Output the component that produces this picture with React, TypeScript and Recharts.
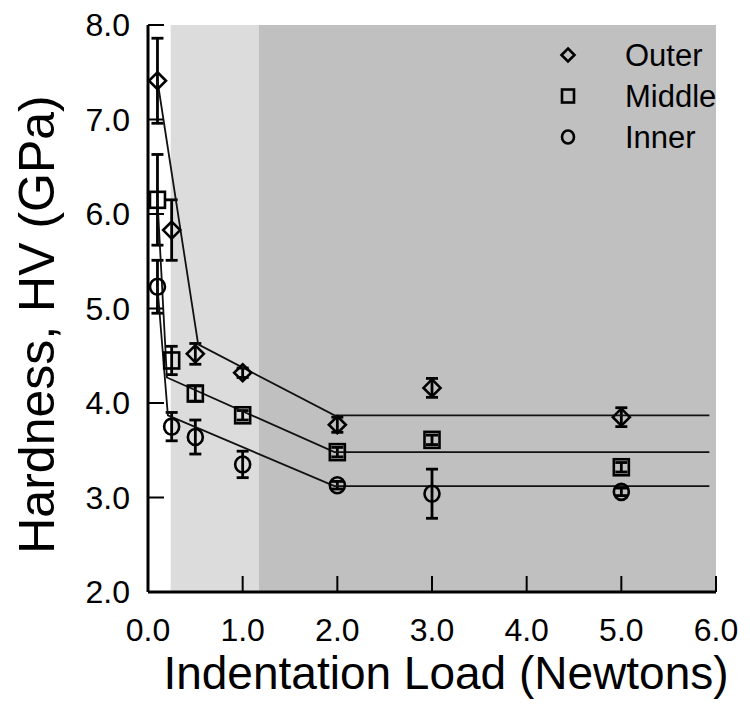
import React from 'react';
import { ComposedChart, Scatter, XAxis, YAxis, ReferenceArea, ErrorBar } from 'recharts';

const loads = [0.1, 0.25, 0.5, 1.0, 2.0, 3.0, 5.0];
const outerHV = [7.41, 5.83, 4.52, 4.32, 3.77, 4.16, 3.85];
const outerErr = [0.45, 0.32, 0.11, 0.05, 0.08, 0.1, 0.1];
const middleHV = [6.15, 4.45, 4.1, 3.87, 3.48, 3.61, 3.32];
const middleErr = [0.48, 0.15, 0.08, 0.05, 0.05, 0.05, 0.05];
const innerHV = [5.23, 3.75, 3.64, 3.35, 3.13, 3.04, 3.06];
const innerErr = [0.28, 0.15, 0.18, 0.14, 0.04, 0.26, 0.04];

const outerFitX = [0.1, 0.53, 1.97, 5.93];
const outerFitY = [7.41, 4.62, 3.87, 3.87];
const middleFitX = [0.1, 0.2, 1.97, 5.93];
const middleFitY = [6.15, 4.27, 3.48, 3.48];
const innerFitX = [0.1, 0.21, 1.97, 5.93];
const innerFitY = [5.23, 3.87, 3.12, 3.12];

const xTicks = [0, 1, 2, 3, 4, 5, 6];
const yTicks = [2, 3, 4, 5, 6, 7, 8];
const regionBounds = [0.24, 1.17, 6];
const seriesNames = ['Outer', 'Middle', 'Inner'];

const toPts = (xs: number[], ys: number[], es?: number[]) =>
  xs.map((x, i) => ({ x, y: ys[i], err: es ? es[i] : 0 }));

const outerData = toPts(loads, outerHV, outerErr);
const middleData = toPts(loads, middleHV, middleErr);
const innerData = toPts(loads, innerHV, innerErr);
const outerFit = toPts(outerFitX, outerFitY);
const middleFit = toPts(middleFitX, middleFitY);
const innerFit = toPts(innerFitX, innerFitY);

const SW = 2.6;
const Diamond = (p: any, s = 8.5) => (
  <polygon
    points={`${p.cx},${p.cy - s} ${p.cx + s},${p.cy} ${p.cx},${p.cy + s} ${p.cx - s},${p.cy}`}
    fill="none" stroke="#000" strokeWidth={SW}
  />
);
const Square = (p: any, s = 8) => (
  <rect x={p.cx - s + 0.5} y={p.cy - s} width={2 * s - 1} height={2 * s} fill="none" stroke="#000" strokeWidth={SW} />
);
const Circle = (p: any, s = 8) => (
  <ellipse cx={p.cx} cy={p.cy} rx={s - 0.5} ry={s} fill="none" stroke="#000" strokeWidth={SW} />
);
const shapes = [Diamond, Square, Circle];

const FONT = '"Liberation Sans", Arial, sans-serif';

const LegendBox = () => (
  <svg width={190} height={130} style={{ position: 'absolute', left: 560, top: 47, overflow: 'visible' }}>
    {seriesNames.map((n, i) => (
      <g key={n}>
        {shapes[i]({ cx: 8, cy: 8 + i * 41 }, 6.5)}
        <text x={65} y={8 + i * 41} dominantBaseline="central" fontSize={31} fontFamily={FONT} fill="#000">
          {n}
        </text>
      </g>
    ))}
  </svg>
);

const YLabel = (props: any) => {
  const vb = props.viewBox;
  const cx = vb.x + 37;
  const cy = vb.y + vb.height / 2 + 16;
  return (
    <text x={cx} y={cy} transform={`rotate(-90 ${cx} ${cy})`} textAnchor="middle" dominantBaseline="central"
      fontSize={50} fontFamily={FONT} fill="#000">
      Hardness, HV (GPa)
    </text>
  );
};

const XLabel = (props: any) => {
  const vb = props.viewBox;
  const cx = vb.x + vb.width / 2 + 14;
  const cy = vb.y + 97;
  return (
    <text x={cx} y={cy} textAnchor="middle" fontSize={46} fontFamily={FONT} fill="#000">
      Indentation Load (Newtons)
    </text>
  );
};

export default function App() {
  return (
    <div style={{ position: 'absolute', left: 0, top: 0, width: 750, height: 723, background: '#fff' }}>
      <ComposedChart width={750} height={723} margin={{ top: 25, right: 34, bottom: 0, left: 0 }}>
        <ReferenceArea x1={regionBounds[0]} x2={regionBounds[1]} y1={2} y2={8} fill="#dcdcdc" fillOpacity={1} stroke="none" />
        <ReferenceArea x1={regionBounds[1]} x2={regionBounds[2]} y1={2} y2={8} fill="#c0c0c0" fillOpacity={1} stroke="none" />
        <XAxis
          type="number" dataKey="x" domain={[0, 6]} ticks={xTicks} height={131}
          tickFormatter={(v: number) => v.toFixed(1)}
          axisLine={{ stroke: '#000', strokeWidth: 3 }}
          tickLine={{ stroke: '#000', strokeWidth: 2 }}
          tickSize={-16} tickMargin={42}
          tick={{ fill: '#000', fontSize: 32, fontFamily: FONT }}
          label={<XLabel />}
          interval={0}
        />
        <YAxis
          type="number" dataKey="y" domain={[2, 8]} ticks={yTicks} width={148}
          tickFormatter={(v: number) => v.toFixed(1)}
          axisLine={{ stroke: '#000', strokeWidth: 3 }}
          tickLine={{ stroke: '#000', strokeWidth: 2 }}
          tickSize={-16} tickMargin={34}
          tick={{ fill: '#000', fontSize: 32, fontFamily: FONT }}
          label={<YLabel />}
          interval={0}
        />
        <Scatter data={outerFit} line={{ stroke: '#111', strokeWidth: 1.8 }} lineType="joint" shape={() => <g />} legendType="none" isAnimationActive={false} />
        <Scatter data={middleFit} line={{ stroke: '#111', strokeWidth: 1.8 }} lineType="joint" shape={() => <g />} legendType="none" isAnimationActive={false} />
        <Scatter data={innerFit} line={{ stroke: '#111', strokeWidth: 1.8 }} lineType="joint" shape={() => <g />} legendType="none" isAnimationActive={false} />
        <Scatter name={seriesNames[0]} data={outerData} shape={(p: any) => Diamond(p)} isAnimationActive={false}>
          <ErrorBar dataKey="err" direction="y" width={6} stroke="#000" strokeWidth={2.8} />
        </Scatter>
        <Scatter name={seriesNames[1]} data={middleData} shape={(p: any) => Square(p)} isAnimationActive={false}>
          <ErrorBar dataKey="err" direction="y" width={6} stroke="#000" strokeWidth={2.8} />
        </Scatter>
        <Scatter name={seriesNames[2]} data={innerData} shape={(p: any) => Circle(p)} isAnimationActive={false}>
          <ErrorBar dataKey="err" direction="y" width={6} stroke="#000" strokeWidth={2.8} />
        </Scatter>
      </ComposedChart>
      <LegendBox />
    </div>
  );
}
